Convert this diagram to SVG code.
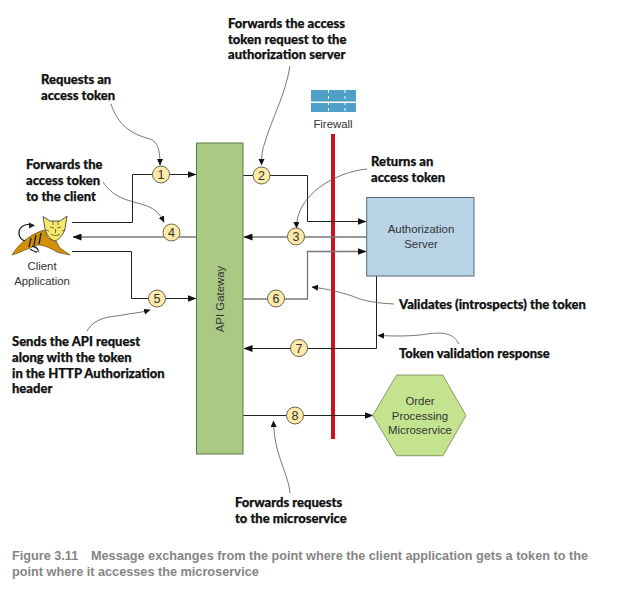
<svg xmlns="http://www.w3.org/2000/svg" width="623" height="589" viewBox="0 0 623 589">
<style>
text{font-family:"Liberation Sans",Arial,sans-serif}
.a{font-family:"Lato","Open Sans",sans-serif;font-weight:900;font-size:13px;fill:#111;stroke:#111;stroke-width:.25}
.n{font-size:11.4px;fill:#333;text-anchor:middle}
.c{font-size:12.7px;font-weight:700;fill:#858585}
.w{fill:none;stroke:#222;stroke-width:1}
.g{fill:none;stroke:#777;stroke-width:1.6}
.l{fill:none;stroke:#555;stroke-width:.8}
.b{fill:#fde9a8;stroke:#666650;stroke-width:1}
.t{font-size:12.5px;fill:#333;text-anchor:middle}
</style>
<defs>
<marker id="ar" markerUnits="userSpaceOnUse" markerWidth="9" markerHeight="7" refX="8.5" refY="3.5" orient="auto"><path d="M0,0L9,3.5L0,7z" fill="#111"/></marker>
<marker id="as" markerUnits="userSpaceOnUse" markerWidth="7" markerHeight="7" refX="6" refY="3" orient="auto"><path d="M0,0L6.5,3L0,6z" fill="#111"/></marker>
</defs>
<rect width="623" height="589" fill="#fff"/>
<g id="firewall">
<rect x="311" y="90" width="45" height="22" fill="#4f9fc9"/>
<path d="M311 102.300H356" stroke="#fff" stroke-width="1.400"/>
<path d="M328.500 90V112M345 90V112" stroke="#fff" stroke-width="1" stroke-dasharray="3 3"/>
<text x="333" y="128" class="n">Firewall</text>
<rect x="331" y="134" width="4" height="305" fill="#cf1020"/>
</g>
<g id="connectors">
<path class="w" d="M72 222.500H132.500V174.500H196" marker-end="url(#ar)"/>
<path class="g" d="M196 237H73" marker-end="url(#ar)"/>
<path class="w" d="M72 251.500H131.500V298.500H196" marker-end="url(#ar)"/>
<path class="w" d="M243 175.500H307.500V221.500H366" marker-end="url(#ar)"/>
<path class="g" d="M366 237H244" marker-end="url(#ar)"/>
<path class="g" d="M243 299H307.500V251.500H366" style="stroke-width:1.300" marker-end="url(#ar)"/>
<path class="w" d="M376.500 276V348.500H244" marker-end="url(#ar)"/>
<path class="w" d="M243 415.500H373" marker-end="url(#ar)"/>
<path class="l" d="M111 104C117 122 127 133 150 139C158 142 160 150 160 165" marker-end="url(#as)"/>
<path class="l" d="M290 66C285 96 272 118 265 142C262 150 261.500 156 261.500 165" marker-end="url(#as)"/>
<path class="l" d="M103 182C115 200 130 200 147 206C155 209 160 214 164 222" marker-end="url(#as)"/>
<path class="l" d="M367 169C335 172 296 195 296.500 228" marker-end="url(#as)"/>
<path class="l" d="M394 304C378 303 366 302 352 296C340 292 328 289 312 287" marker-end="url(#as)"/>
<path class="l" d="M459 344C452 331 440 332 420 335C405 336.500 393 336 378 335.500" marker-end="url(#as)"/>
<path class="l" d="M87 331C96 316 112 317 123 315C132 313 140 313 150 310" marker-end="url(#as)"/>
<path class="l" d="M290 493C288 472 274 455 273.500 421" marker-end="url(#as)"/>
</g>
<g id="client-application">
<path d="M12 255C18 245 28 235 44 230L48 238L56 241L60 248L70 255L58 252.500C50 248 44 245 38 245C30 247 20 253 12 255Z" fill="#d0900a" stroke="#5a3e05" stroke-width=".6"/>
<path d="M31 238L29 247M36 235L34 245M41 233L39 244" stroke="#222" stroke-width="1.400" fill="none"/>
<path d="M32 246C37 247 39 250 38 252M30 249C33 251 35 252 37 252" stroke="#222" stroke-width="1.300" fill="none"/>
<path d="M43 216.500L50 221H60L67 216L65 229C63 236 58 240 55 241C51 240 47 236 45 229Z" fill="#f6e96a" stroke="#333" stroke-width=".8"/>
<path d="M50 227L54 228M57 228L61 227M51 234C53 236 58 236 60 234M55.500 229V233M49 231L46 230M62 231L65 230M53 221V225M58 221V225" stroke="#333" stroke-width=".7" fill="none"/>
<path d="M33 225C25 223 19 227 19 233C19 237 22 240 25 241" fill="none" stroke="#222" stroke-width="1.300"/>
<path d="M35 225.500L29 222.500V228.500Z" fill="#222"/>
<text x="42" y="270" class="n">Client</text>
<text x="42" y="285" class="n">Application</text>
</g>
<g id="api-gateway">
<rect x="196.500" y="143" width="46.500" height="311" fill="#a9c985" stroke="#5f7a4a" stroke-width="1"/>
<text class="t" transform="translate(224 299) rotate(-90)" style="font-size:11.400px">API Gateway</text>
</g>
<g id="authorization-server">
<rect x="366.700" y="197.500" width="107.300" height="78.500" fill="#b8d4e6" stroke="#5a6a72" stroke-width="1"/>
<text x="421" y="233" class="n">Authorization</text>
<text x="421" y="248" class="n">Server</text>
</g>
<g id="order-processing-microservice">
<path d="M372.700 415.500L396.700 375H442.700L466 415.500L443 455.700H396.700Z" fill="#c4e38f" stroke="#8a9a6a" stroke-width="1"/>
<text x="420" y="405" class="n">Order</text>
<text x="420" y="419.500" class="n">Processing</text>
<text x="420" y="434" class="n">Microservice</text>
</g>
<g id="step-1"><circle class="b" cx="161" cy="174.500" r="8.500"/><text class="t" x="161" y="179">1</text></g>
<g id="step-2"><circle class="b" cx="261.500" cy="175.500" r="8.500"/><text class="t" x="261.500" y="180">2</text></g>
<g id="step-3"><circle class="b" cx="296" cy="236.500" r="8.500"/><text class="t" x="296" y="241">3</text></g>
<g id="step-4"><circle class="b" cx="171.500" cy="232.500" r="8.500"/><text class="t" x="171.500" y="237">4</text></g>
<g id="step-5"><circle class="b" cx="157" cy="298.500" r="8.500"/><text class="t" x="157" y="303">5</text></g>
<g id="step-6"><circle class="b" cx="276" cy="298.500" r="8.500"/><text class="t" x="276" y="303">6</text></g>
<g id="step-7"><circle class="b" cx="299" cy="348" r="8.500"/><text class="t" x="299" y="352.500">7</text></g>
<g id="step-8"><circle class="b" cx="295" cy="415.500" r="8.500"/><text class="t" x="295" y="420">8</text></g>
<g id="annotations">
<text class="a" x="228" y="28">Forwards the access</text>
<text class="a" x="228" y="43.500">token request to the</text>
<text class="a" x="228" y="59">authorization server</text>
<text class="a" x="41" y="84">Requests an</text>
<text class="a" x="41" y="100">access token</text>
<text class="a" x="26" y="169">Forwards the</text>
<text class="a" x="26" y="185">access token</text>
<text class="a" x="26" y="201">to the client</text>
<text class="a" x="371" y="166">Returns an</text>
<text class="a" x="371" y="182">access token</text>
<text class="a" x="399" y="309">Validates (introspects) the token</text>
<text class="a" x="399" y="358">Token validation response</text>
<text class="a" x="12" y="346">Sends the API request</text>
<text class="a" x="12" y="362">along with the token</text>
<text class="a" x="12" y="378">in the HTTP Authorization</text>
<text class="a" x="12" y="393">header</text>
<text class="a" x="235" y="507">Forwards requests</text>
<text class="a" x="235" y="523">to the microservice</text>
</g>
<g id="caption">
<text class="c" x="12" y="560">Figure 3.11</text>
<text class="c" x="91" y="560">Message exchanges from the point where the client application gets a token to the</text>
<text class="c" x="12" y="576">point where it accesses the microservice</text>
</g>
</svg>
